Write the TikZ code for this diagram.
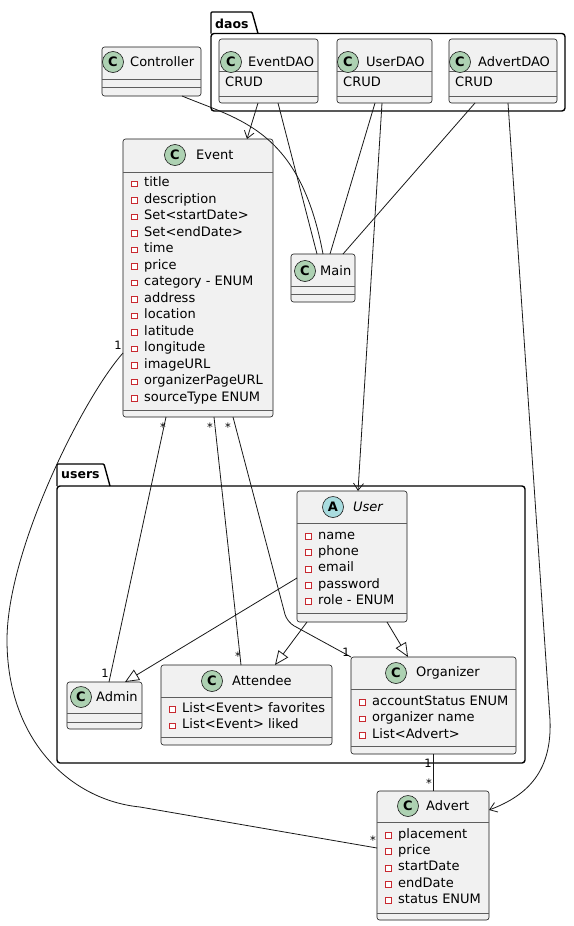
\documentclass[tikz,border=0pt]{standalone}
\usepackage{fontspec}
\setmainfont{DejaVu Sans}
\usetikzlibrary{positioning, arrows.meta}
\definecolor{boxfill}{HTML}{F1F1F1}
\definecolor{boxline}{HTML}{181818}
\definecolor{iconC}{HTML}{ADD1B2}
\definecolor{iconA}{HTML}{A9DCDF}
\definecolor{privred}{HTML}{C82930}
\newcommand{\priv}{\raisebox{0.3pt}{\fboxsep=0pt\fboxrule=0.8pt\fcolorbox{privred}{white}{\rule{0pt}{5pt}\rule{5pt}{0pt}}}\hspace{6.4pt}}

\begin{document}
\begin{tikzpicture}[x=1pt, y=-1pt,
    classbox/.style = {shape = rectangle, draw = boxline, fill = boxfill, line width = 0.6pt, rounded corners = 2.5pt, inner sep = 0pt, outer sep = 0pt},
    divider/.style = {draw = boxline!70, line width = 0.6pt},
    icon/.style = {shape = circle, draw = boxline, fill = iconC, line width = 0.6pt, minimum size = 21pt, inner sep = 0pt, font = \fontsize{13}{15}\selectfont\bfseries},
    title/.style = {anchor = west, inner sep = 0pt, font = \fontsize{13}{15}\selectfont},
    attr/.style = {anchor = west, inner sep = 0pt, text height = 9.5pt, text depth = 3pt, font = \fontsize{13}{15}\selectfont},
    mult/.style = {inner sep = 0pt, font = \fontsize{11.5}{13}\selectfont},
    pkg/.style = {draw = black, line width = 1.4pt},
    pkgname/.style = {anchor = west, inner sep = 0pt, font = \fontsize{12.5}{14}\selectfont\bfseries},
    conn/.style = {draw = boxline, line width = 0.8pt},
    dep/.style = {conn, -{Straight Barb[length = 7pt, width = 10pt]}},
    ext/.style = {conn, -{Triangle[open, length = 14pt, width = 12pt]}}
  ]
  \useasboundingbox (0,0) rectangle (573,926);

  \draw [pkg, rounded corners = 1pt] (211,33.5) -- (211,12) -- (252,12) -- (258,33.5);
  \draw [pkg, rounded corners = 3pt] (211,33.5) rectangle (565,111);
  \node [pkgname] (daos) at (215,23.5) {daos};
  \draw [pkg, rounded corners = 1pt] (57,486) -- (57,464) -- (104,464) -- (110,486);
  \draw [pkg, rounded corners = 3pt] (57,486) rectangle (525,763);
  \node [pkgname] (users) at (61,475) {users};

  \node [classbox, minimum width = 99pt, minimum height = 49pt] (Controller) at (151.5,71.5) {};
  \node [classbox, minimum width = 99pt, minimum height = 64pt] (EventDAO) at (268.5,71) {};
  \node [classbox, minimum width = 95pt, minimum height = 64pt] (UserDAO) at (384.5,71) {};
  \node [classbox, minimum width = 108pt, minimum height = 64pt] (AdvertDAO) at (503,71) {};
  \node [classbox, minimum width = 150pt, minimum height = 278pt] (Event) at (198,278) {};
  \node [classbox, minimum width = 64pt, minimum height = 48pt] (Main) at (323,278) {};
  \node [classbox, minimum width = 110pt, minimum height = 131pt] (User) at (352,556.5) {};
  \node [classbox, minimum width = 75pt, minimum height = 47pt] (Admin) at (104.5,705.5) {};
  \node [classbox, minimum width = 171pt, minimum height = 80pt] (Attendee) at (246.5,705) {};
  \node [classbox, minimum width = 165pt, minimum height = 97pt] (Organizer) at (433.5,705.5) {};
  \node [classbox, minimum width = 112pt, minimum height = 129pt] (Advert) at (433,855.5) {};

  \foreach \b/\y in {Controller/79, Controller/87, EventDAO/71, EventDAO/96, UserDAO/71, UserDAO/96,
      AdvertDAO/71, AdvertDAO/96, Event/172, Event/410, Main/286, Main/294, User/523, User/613,
      Admin/713, Admin/722, Attendee/697, Attendee/737, Organizer/689, Organizer/746, Advert/822, Advert/913}
    \draw [divider] ([xshift = 0.3pt]\b.west |- 0,\y) -- ([xshift = -0.3pt]\b.east |- 0,\y);

  \foreach \b/\x/\y/\t in {Controller/113/62/130, EventDAO/231/62/248, UserDAO/348/62/366,
      AdvertDAO/460/62/478, Event/175/155/196, Main/305/271/320, Admin/81/697/96,
      Attendee/212/681/232, Organizer/396/673/416, Advert/408/806/426} {
    \node [icon] (\b-icon) at (\x,\y) {C};
    \node [title] (\b-title) at (\t,\y) {\b};
  }
  \node [icon, fill = iconA] (User-icon) at (333,507) {A};
  \node [title, font = \fontsize{13}{15}\selectfont\itshape] (User-title) at (353,507) {User};

  \foreach \b/\x in {EventDAO/225, UserDAO/343, AdvertDAO/455}
    \node [attr] (\b-crud) at (\x,83) {CRUD};

  \foreach \t [count = \i from 0] in {title, description, Set<startDate>, Set<endDate>, time, price,
      category - ENUM, address, location, latitude, longitude, imageURL, organizerPageURL, sourceType ENUM}
    \node [attr] (Event-a\i) at (131,{183.5+16.5*\i}) {\priv\t};
  \foreach \t [count = \i from 0] in {name, phone, email, password, role - ENUM}
    \node [attr] (User-a\i) at (305,{536+16.3*\i}) {\priv\t};
  \foreach \t [count = \i from 0] in {List<Event> favorites, List<Event> liked}
    \node [attr] (Attendee-a\i) at (169,{709+16.4*\i}) {\priv\t};
  \foreach \t [count = \i from 0] in {accountStatus ENUM, organizer name, List<Advert>}
    \node [attr] (Organizer-a\i) at (359,{702+16.4*\i}) {\priv\t};
  \foreach \t [count = \i from 0] in {placement, price, startDate, endDate, status ENUM}
    \node [attr] (Advert-a\i) at (385,{835+16.3*\i}) {\priv\t};

  \coordinate (evadLeft) at (7,640);
  \coordinate (evadLow) at (140,807);
  \coordinate (evorgBend) at (287,622);
  \coordinate (advBend) at (550,720);

  \draw [dep] ([xshift = 39pt]EventDAO.south west) -- ([xshift = 124pt]Event.north west);
  \draw [conn] ([xshift = 59pt]EventDAO.south west) -- ([xshift = 26pt]Main.north west);
  \draw [conn] ([xshift = 80pt]Controller.south west) .. controls +(58,24) and +(-23,-124) .. ([xshift = 32pt]Main.north west);
  \draw [conn] ([xshift = 38pt]UserDAO.south west) -- ([xshift = 39pt]Main.north west);
  \draw [dep] ([xshift = 45pt]UserDAO.south west) -- ([xshift = 61pt]User.north west);
  \draw [conn] ([xshift = 26pt]AdvertDAO.south west) -- ([xshift = 52pt]Main.north west);
  \draw [dep] ([xshift = 59pt]AdvertDAO.south west) -- (advBend) .. controls +(2,50) and +(40,-15) .. ([yshift = -19pt]Advert.north east);

  \draw [conn] ([yshift = -214pt]Event.north west) .. controls +(-40,45) and +(0,-90) .. (evadLeft)
    .. controls +(0,100) and +(-70,-7) .. (evadLow) -- ([yshift = -57pt]Advert.north west);
  \draw [conn] ([xshift = 43pt]Event.south west) -- ([xshift = 42pt]Admin.north west);
  \draw [conn] ([xshift = 91pt]Event.south west) -- ([xshift = 80pt]Attendee.north west);
  \draw [conn, rounded corners = 8pt] ([xshift = 110pt]Event.south west) -- (evorgBend) -- (Organizer.north west);
  \draw [conn] ([xshift = 82pt]Organizer.south west) -- ([xshift = 56pt]Advert.north west);

  \draw [ext] ([yshift = -87pt]User.north west) -- ([xshift = 58pt]Admin.north west);
  \draw [ext] ([xshift = 10pt]User.south west) -- ([xshift = 114pt]Attendee.north west);
  \draw [ext] ([xshift = 90pt]User.south west) -- ([xshift = 57pt]Organizer.north west);

  \node [mult] (evad-1) at (118,345) {1};
  \node [mult] (evad-n) at (373,840.5) {*};
  \node [mult] (evadm-n) at (163,427.5) {*};
  \node [mult] (evadm-1) at (105,673) {1};
  \node [mult] (evatt-n) at (210,427.5) {*};
  \node [mult] (evatt-m) at (238,656.5) {*};
  \node [mult] (evorg-n) at (228,427.5) {*};
  \node [mult] (evorg-1) at (346,652) {1};
  \node [mult] (orgad-1) at (428,763.5) {1};
  \node [mult] (orgad-n) at (429,783) {*};
\end{tikzpicture}
\end{document}
